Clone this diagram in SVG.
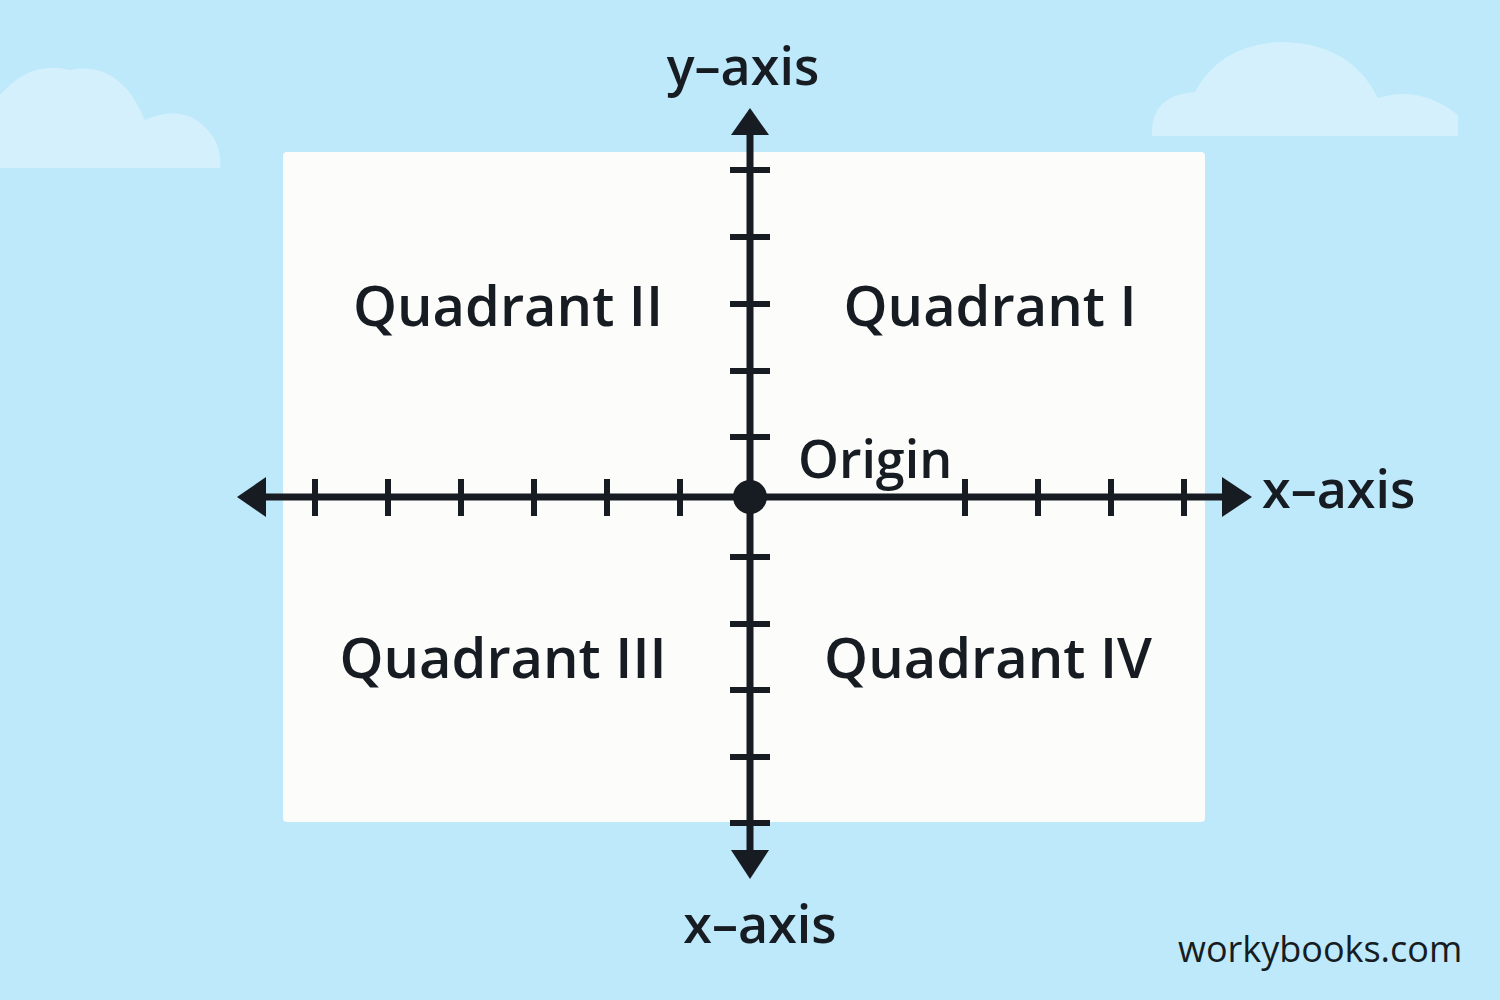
<svg xmlns="http://www.w3.org/2000/svg" width="1500" height="1000" viewBox="0 0 1500 1000">
<style>
.lbl{font-family:"Open Sans","Liberation Sans",sans-serif;font-weight:600;fill:#161c22}
.ax{stroke:#161c22;stroke-width:7;fill:none}
.tk{stroke:#161c22;stroke-width:6}
.cloud{fill:#d3f0fc}
</style>
<rect width="1500" height="1000" fill="#bde9fb"/>
<g id="clouds">
<path class="cloud" d="M0,168 L0,95 Q30,60 70,70 Q120,60 145,120 Q190,100 215,140 Q222,155 220,168 Z"/>
<path class="cloud" d="M1152,136 Q1150,95 1195,92 Q1220,45 1280,42 Q1350,42 1378,98 Q1420,85 1458,115 L1458,136 Z"/>
</g>
<rect id="panel" x="283" y="152" width="922" height="670" rx="4" fill="#fcfcfa"/>
<g id="connectors">
<line class="ax" x1="750" y1="125" x2="750" y2="860"/>
<line class="ax" x1="255" y1="497" x2="1235" y2="497"/>
<polygon points="750,108 731,135 769,135" fill="#161c22"/>
<polygon points="750,879 731,850 769,850" fill="#161c22"/>
<polygon points="237,497 266,477 266,517" fill="#161c22"/>
<polygon points="1252,497 1222,477 1222,517" fill="#161c22"/>
<g class="tk">
<line x1="315" y1="479" x2="315" y2="516"/><line x1="388" y1="479" x2="388" y2="516"/><line x1="461" y1="479" x2="461" y2="516"/><line x1="534" y1="479" x2="534" y2="516"/><line x1="607" y1="479" x2="607" y2="516"/><line x1="680" y1="479" x2="680" y2="516"/>
<line x1="965" y1="479" x2="965" y2="516"/><line x1="1038" y1="479" x2="1038" y2="516"/><line x1="1111" y1="479" x2="1111" y2="516"/><line x1="1184" y1="479" x2="1184" y2="516"/>
<line x1="730" y1="170" x2="770" y2="170"/><line x1="730" y1="237" x2="770" y2="237"/><line x1="730" y1="304" x2="770" y2="304"/><line x1="730" y1="371" x2="770" y2="371"/><line x1="730" y1="437" x2="770" y2="437"/>
<line x1="730" y1="557" x2="770" y2="557"/><line x1="730" y1="624" x2="770" y2="624"/><line x1="730" y1="690" x2="770" y2="690"/><line x1="730" y1="757" x2="770" y2="757"/><line x1="730" y1="823" x2="770" y2="823"/>
</g>
</g>
<g id="origin"><circle cx="750" cy="497" r="17" fill="#161c22"/><text class="lbl" x="798" y="478" font-size="52" font-weight="500">Origin</text></g>
<g id="labels">
<text class="lbl" x="743" y="85" font-size="52" text-anchor="middle">y–axis</text>
<text class="lbl" x="1262" y="508" font-size="52">x–axis</text>
<text class="lbl" x="760" y="943" font-size="52" text-anchor="middle">x–axis</text>
<text class="lbl" x="508" y="326" font-size="56" text-anchor="middle">Quadrant II</text>
<text class="lbl" x="990" y="326" font-size="56" text-anchor="middle">Quadrant I</text>
<text class="lbl" x="503" y="678" font-size="56" text-anchor="middle">Quadrant III</text>
<text class="lbl" x="988" y="678" font-size="56" text-anchor="middle">Quadrant IV</text>
<text x="1178" y="962" font-size="36" font-family="'Open Sans','Liberation Sans',sans-serif" fill="#161c22">workybooks.com</text>
</g>
</svg>
